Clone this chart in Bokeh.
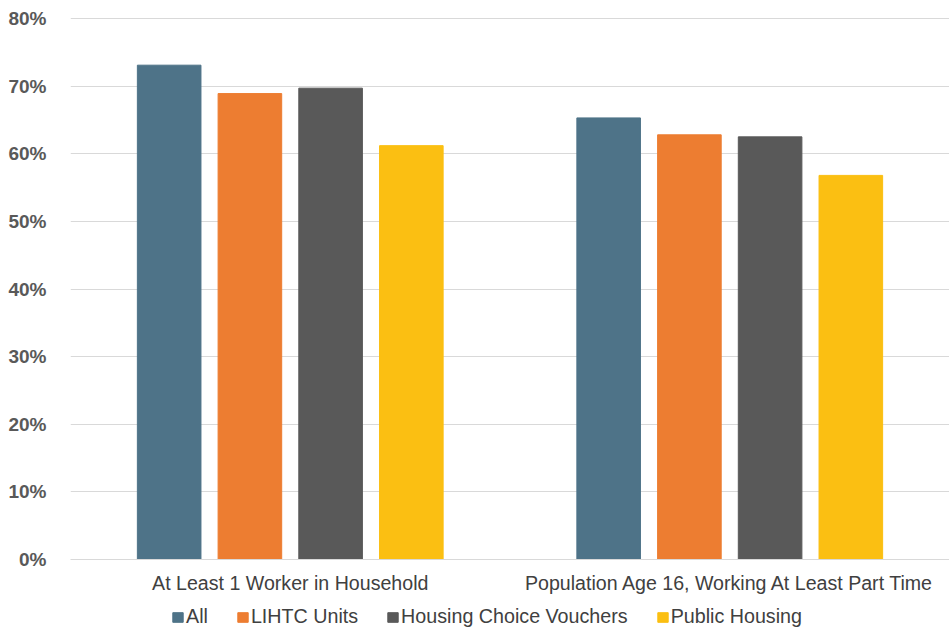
from bokeh.plotting import figure
from bokeh.layouts import column
from bokeh.models import (ColumnDataSource, FactorRange, Range1d, Legend, LegendItem,
                          NumeralTickFormatter, FixedTicker)
from bokeh.transform import dodge
from bokeh.embed import file_html
from bokeh.resources import INLINE

categories = ["At Least 1 Worker in Household", "Population Age 16, Working At Least Part Time"]
series_names = ["All", "LIHTC Units", "Housing Choice Vouchers", "Public Housing"]
all_vals = [0.731, 0.653]
lihtc_vals = [0.689, 0.628]
hcv_vals = [0.697, 0.625]
public_vals = [0.612, 0.568]
y_ticks = [0, 0.1, 0.2, 0.3, 0.4, 0.5, 0.6, 0.7, 0.8]

colors = ["#4E7388", "#ED7D31", "#595959", "#FBBF12"]
offsets = [-0.2755, -0.0918, 0.0918, 0.2755]
cols = ["all", "lihtc", "hcv", "public"]
FONT = "Liberation Sans"

src = ColumnDataSource(dict(cat=categories, all=all_vals, lihtc=lihtc_vals,
                            hcv=hcv_vals, public=public_vals))

p = figure(x_range=FactorRange(*categories, range_padding=0), y_range=Range1d(0, 0.8015),
           width=949, height=600, output_backend="svg", toolbar_location=None,
           min_border_left=70, min_border_right=0, min_border_top=17, min_border_bottom=41)

for col, off, c in zip(cols, offsets, colors):
    p.vbar(x=dodge("cat", off, range=p.x_range), top=col, width=0.1447, source=src,
           fill_color=c, line_color=c, line_width=1)

p.outline_line_color = None
p.xgrid.grid_line_color = None
p.ygrid.grid_line_color = "#d9d9d9"
p.ygrid.grid_line_width = 1

p.yaxis.ticker = FixedTicker(ticks=y_ticks)
p.yaxis.formatter = NumeralTickFormatter(format="0%")
p.yaxis.axis_line_color = None
p.yaxis.major_tick_line_color = None
p.yaxis.minor_tick_line_color = None
p.yaxis.major_label_text_font = FONT
p.yaxis.major_label_text_font_size = "19px"
p.yaxis.major_label_text_font_style = "bold"
p.yaxis.major_label_text_color = "#595959"
p.yaxis.major_label_standoff = 18

p.xaxis.axis_line_color = "#d9d9d9"
p.xaxis.major_tick_line_color = None
p.xaxis.minor_tick_line_color = None
p.xaxis.major_label_text_font = FONT
p.xaxis.major_label_text_font_size = "19.6px"
p.xaxis.major_label_text_color = "#404040"
p.xaxis.major_label_standoff = 6

# legend strip below the chart (its bars lie outside its visible y range)
lg = figure(width=949, height=29, output_backend="svg", toolbar_location=None,
            x_range=FactorRange(*categories, range_padding=0), y_range=Range1d(5, 6),
            x_axis_type=None, y_axis_type=None,
            min_border_left=0, min_border_right=0, min_border_top=0, min_border_bottom=0)
lg.outline_line_color = None
lg.xgrid.visible = False
lg.ygrid.visible = False
leg_renderers = [lg.vbar(x=dodge("cat", off, range=lg.x_range), top=col, width=0.1447,
                         source=src, fill_color=c, line_color=c)
                 for col, off, c in zip(cols, offsets, colors)]
legend = Legend(items=[LegendItem(label=n, renderers=[r]) for n, r in zip(series_names, leg_renderers)],
                orientation="horizontal", location=(101, 1), spacing=28, label_standoff=2,
                glyph_width=13, glyph_height=12, label_text_font_size="19.7px",
                label_text_font=FONT, label_text_color="#404040",
                border_line_color=None, background_fill_alpha=0, padding=0, margin=0)
lg.add_layout(legend, "center")

layout = column(p, lg, spacing=0)
open("out.html", "w").write(file_html(layout, INLINE))
